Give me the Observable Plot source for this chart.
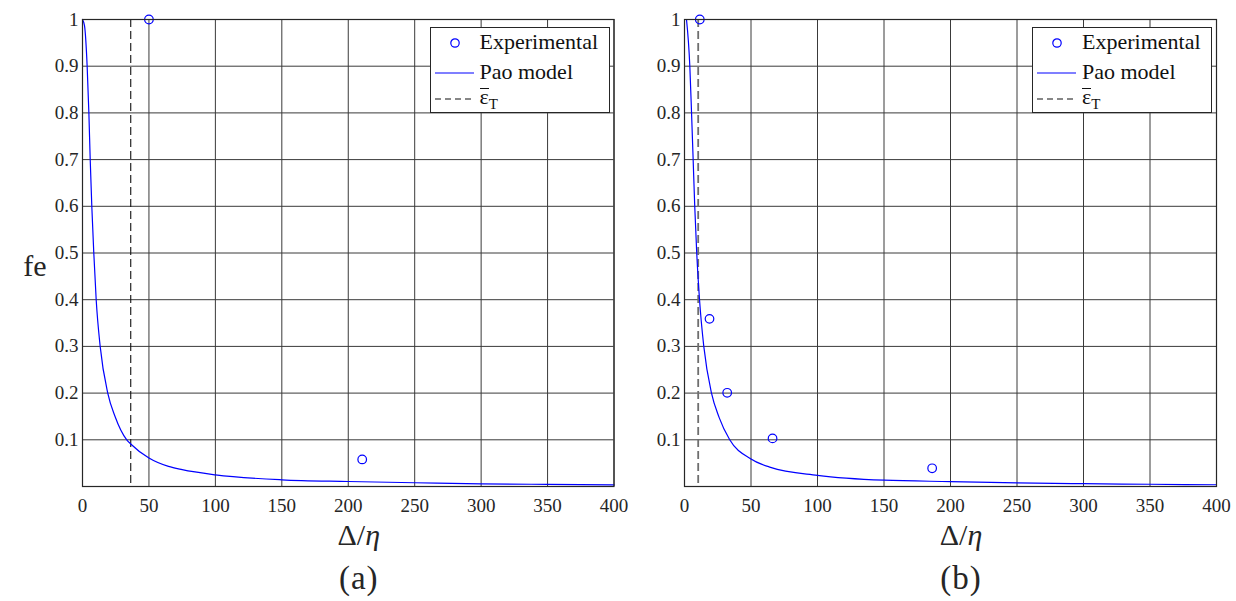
<!DOCTYPE html>
<html><head><meta charset="utf-8">
<script src="https://cdn.jsdelivr.net/npm/d3@7"></script>
<script src="https://cdn.jsdelivr.net/npm/@observablehq/plot@0.6"></script>
<style>
body{margin:0;background:#fff;font-family:"Liberation Serif",Tinos,"Times New Roman",Times,"DejaVu Serif",serif;color:#262626;}
#root{position:relative;width:1236px;height:601px;overflow:hidden;background:#fff;}
.panel{position:absolute;top:0;}
.lbl{position:absolute;white-space:nowrap;transform:translate(-50%,-50%);color:#262626;}
.legend{position:absolute;background:#fff;border:1px solid #262626;box-sizing:border-box;}
.legend svg{position:absolute;left:0;top:0;}
.legend .t{position:absolute;left:49px;font-size:22px;line-height:24px;color:#111;white-space:nowrap;}
.t1{font-family:"Liberation Serif";}
.t2{font-family:"DejaVu Serif";}
</style></head><body><div id="root"></div>
<script>
// ---- data ----
const xTicks = [0, 50, 100, 150, 200, 250, 300, 350, 400];
const yTicks = [0.1, 0.2, 0.3, 0.4, 0.5, 0.6, 0.7, 0.8, 0.9, 1];
const yLabel = "fe";
const panelTags = ["(a)", "(b)"];
const legendLabels = ["Experimental", "Pao model"];

// Panel (a)
const paoA_x = [0, 1.5, 3.5, 4.8, 5.8, 7.0, 8.5, 10.3, 13.3, 19.0, 24.5, 33.3, 36.3, 50, 64.7, 75, 100, 150, 200, 250, 300, 350, 400];
const paoA_y = [1.0, 0.987, 0.9, 0.8, 0.7, 0.6, 0.5, 0.4, 0.3, 0.2, 0.15, 0.1, 0.091, 0.061, 0.043, 0.036, 0.025, 0.0143, 0.0107, 0.008, 0.0058, 0.0046, 0.0036];
const expA_x = [50, 210.5];
const expA_y = [1.0, 0.058];
const epsA = 36.3;

// Panel (b)
const paoB_x = [1.5, 4.0, 5.3, 6.5, 7.7, 9.2, 11.3, 14.5, 20.3, 26, 34, 50, 64.7, 100, 150, 200, 250, 300, 350, 400];
const paoB_y = [1.0, 0.9, 0.8, 0.7, 0.6, 0.5, 0.4, 0.3, 0.2, 0.148, 0.1, 0.059, 0.041, 0.024, 0.0135, 0.0105, 0.0079, 0.006, 0.0048, 0.0037];
const expB_x = [11.5, 18.8, 32.1, 66.2, 186.2];
const expB_y = [1.0, 0.359, 0.2006, 0.103, 0.039];
const epsB = 10.3;

// ---- drawing ----
const FONT = '"Liberation Serif",Tinos,"Times New Roman",Times,"DejaVu Serif",serif';
const root = document.getElementById("root");
const toRows = (xs, ys) => xs.map((x, i) => ({x, y: ys[i]}));
const fmt = d3.format("~g");

function panel({left, mLeft, mRight, pao, exp, eps, epsStroke, epsWidth, tag, showY}) {
  const W = 618, H = 520, mTop = 19, mBottom = H - 486;
  const chart = Plot.plot({
    width: W, height: H,
    marginTop: mTop, marginBottom: mBottom, marginLeft: mLeft, marginRight: mRight,
    style: {fontFamily: FONT, fontSize: "19px", color: "#262626", background: "none", overflow: "visible"},
    x: {domain: [0, 400], ticks: xTicks, tickSize: 0, tickPadding: 12, label: null, tickFormat: fmt},
    y: {domain: [0, 1], ticks: yTicks, tickSize: 0, tickPadding: 4, label: null, tickFormat: fmt},
    marks: [
      Plot.ruleX(xTicks, {stroke: "#3a3a3a", strokeWidth: 1}),
      Plot.ruleY(yTicks, {stroke: "#3a3a3a", strokeWidth: 1}),
      Plot.ruleX([eps], {stroke: epsStroke, strokeWidth: epsWidth, strokeDasharray: "8,4"}),
      Plot.line(pao, {x: "x", y: "y", stroke: "#0000ff", strokeWidth: 1.2, curve: "monotone-x"}),
      Plot.dot(exp, {x: "x", y: "y", r: 4.3, stroke: "#0000ff", strokeWidth: 1.2, fill: "none"}),
      Plot.frame({stroke: "#262626", strokeWidth: 1.2})
    ]
  });
  const wrap = document.createElement("div");
  wrap.className = "panel";
  wrap.style.left = left + "px";
  wrap.appendChild(chart);
  root.appendChild(wrap);

  const plotL = left + mLeft, plotR = left + W - mRight;
  const cx = (plotL + plotR) / 2 + 11;

  const xl = document.createElement("div");
  xl.className = "lbl";
  xl.style.left = cx + "px"; xl.style.top = "535px"; xl.style.fontSize = "30px";
  xl.innerHTML = "Δ/<i>η</i>";
  root.appendChild(xl);

  const tg = document.createElement("div");
  tg.className = "lbl";
  tg.style.left = cx + "px"; tg.style.top = "578px"; tg.style.fontSize = "33px"; tg.style.letterSpacing = "1px";
  tg.textContent = tag;
  root.appendChild(tg);

  if (showY) {
    const yl = document.createElement("div");
    yl.className = "lbl";
    yl.style.left = "35px"; yl.style.top = "266px"; yl.style.fontSize = "30px";
    yl.textContent = yLabel;
    root.appendChild(yl);
  }

  // legend
  const lg = document.createElement("div");
  lg.className = "legend";
  const lw = 180, lh = 86;
  lg.style.left = (plotR - 4 - lw) + "px"; lg.style.top = "27px";
  lg.style.width = lw + "px"; lg.style.height = lh + "px";
  lg.innerHTML = `
    <svg width="${lw}" height="${lh}">
      <circle cx="24" cy="15" r="4.2" fill="none" stroke="#0000ff" stroke-width="1.2"/>
      <line x1="4" x2="43" y1="45" y2="45" stroke="#0000ff" stroke-width="1.2"/>
      <line x1="4" x2="43" y1="71" y2="71" stroke="#111" stroke-width="1.1" stroke-dasharray="6,4"/>
    </svg>
    <div class="t" style="top:2px">${legendLabels[0]}</div>
    <div class="t" style="top:32px">${legendLabels[1]}</div>
    <div class="t" style="top:57px"><span style="display:inline-block;border-top:1.2px solid #111;line-height:15px">ε</span><sub style="font-size:15px;vertical-align:-5px">T</sub></div>`;
  root.appendChild(lg);
}

panel({left: 0, mLeft: 82, mRight: 4.5, pao: toRows(paoA_x, paoA_y), exp: toRows(expA_x, expA_y), eps: epsA, epsStroke: "#111", epsWidth: 1.1, tag: panelTags[0], showY: true});
panel({left: 618, mLeft: 66, mRight: 20, pao: toRows(paoB_x, paoB_y), exp: toRows(expB_x, expB_y), eps: epsB, epsStroke: "#6e6e6e", epsWidth: 1.8, tag: panelTags[1], showY: false});
</script></body></html>
